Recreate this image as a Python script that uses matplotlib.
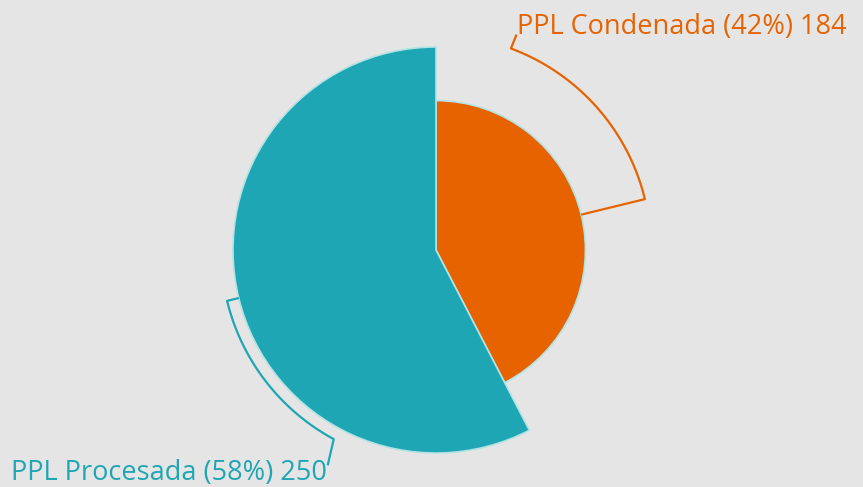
import numpy as np
import matplotlib
matplotlib.use("Agg")
import matplotlib.pyplot as plt

# Data
labels = ["PPL Condenada", "PPL Procesada"]
values = [184, 250]
colors = ["#e66300", "#1fa6b4"]

BG = "#e5e5e5"
W, H = 863, 487
fig = plt.figure(figsize=(W / 100, H / 100), dpi=100, facecolor=BG)
ax = fig.add_axes([0, 0, 1, 1])
ax.set_facecolor(BG)

cx, cy = 436, 237
rmax = 203
total = sum(values)
radii = [rmax * v / max(values) for v in values]

wedges, _ = ax.pie(values, startangle=90, counterclock=False, center=(cx, cy),
                   radius=rmax, colors=colors, frame=True,
                   wedgeprops=dict(edgecolor="#b3e3e3", linewidth=1.2))
for w, r in zip(wedges, radii):
    w.set_radius(r)
ax.set_xlim(0, W)
ax.set_ylim(0, H)
ax.set_aspect("equal")
ax.axis("off")

# bracket layout: (arc end angle, tick end radius, tick end angle, label pos, ha)
layout = [
    dict(end=69.6, tick_r=230, tick_a=69.5, pos=(517, 453), ha="left"),
    dict(end=241.6, tick_r=241, tick_a=243.3, pos=(327, 7), ha="right"),
]
arc_r = rmax + 12
for w, r, v, lab, col, L in zip(wedges, radii, values, labels, colors, layout):
    mid = (w.theta1 + w.theta2) / 2
    end = L["end"]
    while end - mid > 180:
        end -= 360
    while end - mid < -180:
        end += 360
    ta_deg = L["tick_a"] + (end - L["end"])
    ang = np.radians(np.linspace(mid, end, 100))
    xs = [cx + r * np.cos(ang[0])] + list(cx + arc_r * np.cos(ang))
    ys = [cy + r * np.sin(ang[0])] + list(cy + arc_r * np.sin(ang))
    ta = np.radians(ta_deg)
    xs.append(cx + L["tick_r"] * np.cos(ta))
    ys.append(cy + L["tick_r"] * np.sin(ta))
    ax.plot(xs, ys, color=col, lw=1.6, solid_capstyle="butt")
    pct = round(100 * v / total)
    ax.text(L["pos"][0], L["pos"][1], f"{lab} ({pct}%) {v}", color=col,
            fontsize=19.5, family="Open Sans", ha=L["ha"], va="baseline")

fig.savefig("out.png", dpi=100, facecolor=BG)
